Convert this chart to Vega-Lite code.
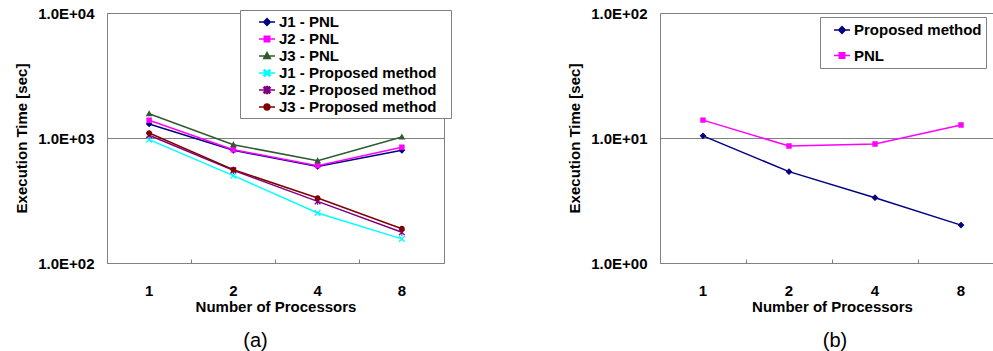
{
  "$schema": "https://vega.github.io/schema/vega-lite/v6.json",
  "background": "white",
  "padding": {"left": 14, "top": 5, "right": 0, "bottom": 0},
  "spacing": 115,
  "config": {
    "font": "Liberation Sans",
    "view": {"stroke": null},
    "axis": {
      "labelFont": "Liberation Sans", "labelFontSize": 15, "labelFontWeight": "bold", "labelColor": "black",
      "titleFont": "Liberation Sans", "titleFontSize": 15, "titleFontWeight": "bold", "titleColor": "black",
      "gridColor": "#808080", "gridOpacity": 1, "gridWidth": 1,
      "domainColor": "#808080", "tickColor": "#808080", "labelFlush": false, "labelOverlap": false
    },
    "legend": {
      "labelFont": "Liberation Sans", "labelFontSize": 15, "labelFontWeight": "bold", "labelColor": "black",
      "symbolSize": 256, "symbolStrokeWidth": 1.5, "strokeColor": "#808080", "fillColor": "white",
      "labelOffset": 3, "title": null
    },
    "title": {"font": "Liberation Sans", "fontSize": 20, "fontWeight": "normal", "color": "black"}
  },
  "resolve": {
    "scale": {"x": "independent", "y": "independent", "color": "independent", "fill": "independent", "shape": "independent"},
    "legend": {"color": "independent"}
  },
  "hconcat": [
    {
      "width": 337,
      "height": 250,
      "view": {"stroke": "#808080", "strokeWidth": 1},
      "title": {"text": "(a)", "orient": "bottom", "frame": "group", "anchor": "middle", "dx": -20, "offset": 17},
      "data": {"values": [
        {"proc": "1", "series": "J1 - PNL", "time": 1294},
        {"proc": "2", "series": "J1 - PNL", "time": 797},
        {"proc": "4", "series": "J1 - PNL", "time": 593},
        {"proc": "8", "series": "J1 - PNL", "time": 797},
        {"proc": "1", "series": "J2 - PNL", "time": 1385},
        {"proc": "2", "series": "J2 - PNL", "time": 806},
        {"proc": "4", "series": "J2 - PNL", "time": 601},
        {"proc": "8", "series": "J2 - PNL", "time": 842},
        {"proc": "1", "series": "J3 - PNL", "time": 1564},
        {"proc": "2", "series": "J3 - PNL", "time": 884},
        {"proc": "4", "series": "J3 - PNL", "time": 658},
        {"proc": "8", "series": "J3 - PNL", "time": 1019},
        {"proc": "1", "series": "J1 - Proposed method", "time": 970},
        {"proc": "2", "series": "J1 - Proposed method", "time": 500},
        {"proc": "4", "series": "J1 - Proposed method", "time": 251},
        {"proc": "8", "series": "J1 - Proposed method", "time": 156},
        {"proc": "1", "series": "J2 - Proposed method", "time": 1051},
        {"proc": "2", "series": "J2 - Proposed method", "time": 551},
        {"proc": "4", "series": "J2 - Proposed method", "time": 311},
        {"proc": "8", "series": "J2 - Proposed method", "time": 176},
        {"proc": "1", "series": "J3 - Proposed method", "time": 1096},
        {"proc": "2", "series": "J3 - Proposed method", "time": 558},
        {"proc": "4", "series": "J3 - Proposed method", "time": 331},
        {"proc": "8", "series": "J3 - Proposed method", "time": 188}
      ]},
      "encoding": {
        "x": {
          "field": "proc", "type": "ordinal", "bandPosition": 0.5,
          "scale": {"type": "band", "domain": ["1", "2", "4", "8"], "paddingInner": 0, "paddingOuter": 0},
          "axis": {"title": "Number of Processors", "labelAngle": 0, "domain": false, "ticks": true, "tickSize": -4, "bandPosition": 0, "labelPadding": 24, "titlePadding": 1, "grid": false}
        },
        "y": {
          "field": "time", "type": "quantitative",
          "scale": {"type": "log", "domain": [100, 10000], "nice": false},
          "axis": {"title": "Execution Time [sec]", "values": [100, 1000, 10000], "labelExpr": "'1.0E+0' + round(log(datum.value)/LN10)", "ticks": false, "domain": false, "grid": true, "labelPadding": 13, "titlePadding": 8}
        }
      },
      "layer": [
        {
          "mark": {"type": "line", "strokeWidth": 1.5},
          "encoding": {
            "color": {
              "field": "series", "type": "nominal",
              "scale": {"domain": ["J1 - PNL", "J2 - PNL", "J3 - PNL", "J1 - Proposed method", "J2 - Proposed method", "J3 - Proposed method"], "range": ["#000080", "#FF00FF", "#2E5A2E", "#00FFFF", "#800080", "#800000"]},
              "legend": {
                "orient": "none", "legendX": 133, "legendY": -3, "padding": 3, "rowPadding": -4.5, "symbolOffset": 15,
                "title": ".", "titleOrient": "right", "titlePadding": 10, "titleFontSize": 2, "titleColor": "white"
              }
            }
          }
        },
        {
          "mark": {"type": "point", "filled": true, "size": 256, "strokeWidth": 0, "opacity": 1},
          "encoding": {
            "fill": {"field": "series", "type": "nominal", "legend": null,
              "scale": {"domain": ["J1 - PNL", "J2 - PNL", "J3 - PNL", "J1 - Proposed method", "J2 - Proposed method", "J3 - Proposed method"], "range": ["#000080", "#FF00FF", "#2E5A2E", "#00FFFF", "#800080", "#800000"]}},
            "shape": {"field": "series", "type": "nominal", "legend": null,
              "scale": {"domain": ["J1 - PNL", "J2 - PNL", "J3 - PNL", "J1 - Proposed method", "J2 - Proposed method", "J3 - Proposed method"], "range": [
                "M-1,0H1M-0.42,0L0,-0.42L0.42,0L0,0.42Z",
                "M-1,0H1M-0.34,-0.34H0.34V0.34H-0.34Z",
                "M-1,0H1M-0.42,0.32L0,-0.42L0.42,0.32Z",
                "M-1,0H1M-0.29,-0.41L0.41,0.29L0.29,0.41L-0.41,-0.29ZM0.29,-0.41L0.41,-0.29L-0.29,0.41L-0.41,0.29Z",
                "M-1,0H1M-0.29,-0.41L0.41,0.29L0.29,0.41L-0.41,-0.29ZM0.29,-0.41L0.41,-0.29L-0.29,0.41L-0.41,0.29ZM-0.06,-0.44L0.06,-0.44L0.06,0.44L-0.06,0.44Z",
                "M-1,0H1M-0.36,0A0.36,0.36 0 1,0 0.36,0A0.36,0.36 0 1,0 -0.36,0Z"
              ]}}
          }
        }
      ]
    },
    {
      "width": 332,
      "height": 250,
      "title": {"text": "(b)", "orient": "bottom", "frame": "group", "anchor": "middle", "dx": 9, "offset": 17},
      "data": {"values": [
        {"proc": "1", "series": "Proposed method", "time": 10.4},
        {"proc": "2", "series": "Proposed method", "time": 5.38},
        {"proc": "4", "series": "Proposed method", "time": 3.33},
        {"proc": "8", "series": "Proposed method", "time": 2.01},
        {"proc": "1", "series": "PNL", "time": 13.9},
        {"proc": "2", "series": "PNL", "time": 8.63},
        {"proc": "4", "series": "PNL", "time": 8.95},
        {"proc": "8", "series": "PNL", "time": 12.7}
      ]},
      "encoding": {
        "x": {
          "field": "proc", "type": "ordinal", "bandPosition": 0.5,
          "scale": {"type": "band", "domain": ["1", "2", "4", "8"], "paddingInner": 0, "paddingOuter": 0, "range": [0, 344]},
          "axis": {"title": "Number of Processors", "labelAngle": 0, "domain": false, "ticks": true, "tickSize": -4, "bandPosition": 0, "labelPadding": 24, "titlePadding": 1, "grid": false}
        },
        "y": {
          "field": "time", "type": "quantitative",
          "scale": {"type": "log", "domain": [1, 100], "nice": false},
          "axis": {"title": "Execution Time [sec]", "values": [1, 10, 100], "labelExpr": "'1.0E+0' + round(log(datum.value)/LN10)", "ticks": false, "domain": true, "grid": true, "labelPadding": 13, "titlePadding": 8}
        }
      },
      "layer": [
        {
          "mark": {"type": "line", "strokeWidth": 1.5},
          "encoding": {
            "color": {
              "field": "series", "type": "nominal",
              "scale": {"domain": ["Proposed method", "PNL"], "range": ["#000080", "#FF00FF"]},
              "legend": {
                "orient": "none", "legendX": 160, "legendY": 4, "padding": 4, "rowPadding": 8.5, "symbolOffset": 9
              }
            }
          }
        },
        {
          "mark": {"type": "point", "filled": true, "size": 256, "strokeWidth": 0, "opacity": 1},
          "encoding": {
            "fill": {"field": "series", "type": "nominal", "legend": null,
              "scale": {"domain": ["Proposed method", "PNL"], "range": ["#000080", "#FF00FF"]}},
            "shape": {"field": "series", "type": "nominal", "legend": null,
              "scale": {"domain": ["Proposed method", "PNL"], "range": [
                "M-1,0H1M-0.42,0L0,-0.42L0.42,0L0,0.42Z",
                "M-1,0H1M-0.34,-0.34H0.34V0.34H-0.34Z"
              ]}}
          }
        }
      ]
    }
  ]
}
